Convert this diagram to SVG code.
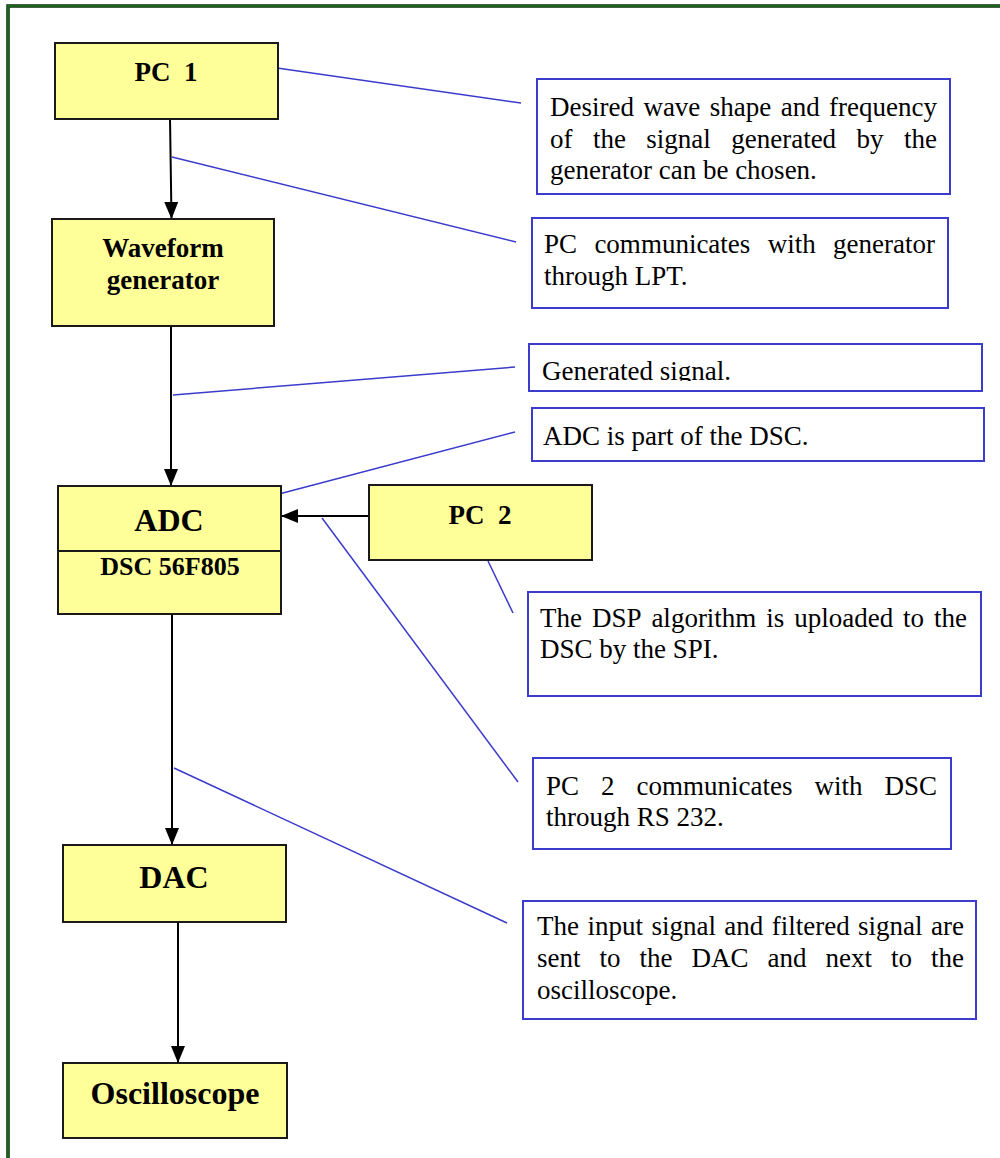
<svg xmlns="http://www.w3.org/2000/svg" width="1000" height="1158" viewBox="0 0 1000 1158">
<style>
.node{fill:#ffff99;stroke:#1a1a1a;stroke-width:2}
.lbl{font-family:"Liberation Serif","Times New Roman",serif;font-weight:bold;fill:#000;text-anchor:middle}
.note{fill:#fff;stroke:#3b3bcc;stroke-width:2}
.nt{font-family:"Liberation Serif","Times New Roman",serif;font-size:27px;fill:#000}
.lead{stroke:#3b3bcc;stroke-width:1.5;fill:none}
.arr{stroke:#000;stroke-width:2;fill:none;marker-end:url(#ah)}
</style>
<defs>
<marker id="ah" markerWidth="17" markerHeight="14" refX="17" refY="7" orient="auto" markerUnits="userSpaceOnUse" viewBox="0 0 17 14">
<path d="M0,0 L17,7 L0,14 Z" fill="#000"/>
</marker>
<clipPath id="clip3"><rect x="529" y="344" width="453" height="37"/></clipPath>
</defs>
<rect width="1000" height="1158" fill="#fff"/>
<g id="frame">
<rect x="8" y="6" width="1010" height="1170" fill="none" stroke="#0d2a0d" stroke-width="3.5"/>
<rect x="8" y="6" width="1010" height="1170" fill="none" stroke="#1c7a1c" stroke-width="1.5"/>
</g>
<g id="connectors">
<line class="arr" x1="170" y1="118" x2="171.5" y2="219"/>
<line class="arr" x1="171" y1="326" x2="171" y2="486"/>
<line class="arr" x1="172" y1="614" x2="172" y2="845"/>
<line class="arr" x1="178" y1="922" x2="178" y2="1063"/>
<line class="arr" x1="369" y1="516" x2="281" y2="516"/>
<line class="lead" x1="277" y1="68" x2="521" y2="103"/>
<line class="lead" x1="172" y1="157" x2="516" y2="242"/>
<line class="lead" x1="173" y1="395" x2="515" y2="367"/>
<line class="lead" x1="279" y1="494" x2="515" y2="432"/>
<line class="lead" x1="488" y1="561" x2="513" y2="613"/>
<line class="lead" x1="322" y1="518" x2="518" y2="782"/>
<line class="lead" x1="174" y1="768" x2="507" y2="923"/>
</g>
<g id="pc1">
<rect class="node" x="55" y="43" width="223" height="76"/>
<text class="lbl" x="166" y="81" font-size="27">PC&#160; 1</text>
</g>
<g id="waveform">
<rect class="node" x="52" y="219" width="222" height="107"/>
<text class="lbl" x="163" y="257" font-size="27">Waveform</text>
<text class="lbl" x="163" y="289" font-size="27">generator</text>
</g>
<g id="adc">
<rect class="node" x="58" y="486" width="223" height="128"/>
<line x1="58" y1="551" x2="281" y2="551" stroke="#1a1a1a" stroke-width="2"/>
<text class="lbl" x="169" y="531" font-size="32">ADC</text>
<text class="lbl" x="170" y="575" font-size="26">DSC 56F805</text>
</g>
<g id="pc2">
<rect class="node" x="369" y="485" width="223" height="75"/>
<text class="lbl" x="480" y="524" font-size="27">PC&#160; 2</text>
</g>
<g id="dac">
<rect class="node" x="63" y="845" width="223" height="77"/>
<text class="lbl" x="174" y="888" font-size="32">DAC</text>
</g>
<g id="oscilloscope">
<rect class="node" x="63" y="1063" width="224" height="75"/>
<text class="lbl" x="175" y="1104" font-size="32">Oscilloscope</text>
</g>
<g id="note1">
<rect class="note" x="537" y="79" width="413" height="115"/>
<text class="nt" y="116"><tspan x="550">Desired</tspan><tspan x="643.4">wave</tspan><tspan x="709.8">shape</tspan><tspan x="780.7">and</tspan><tspan x="829.1">frequency</tspan></text>
<text class="nt" y="148"><tspan x="550">of</tspan><tspan x="592.9">the</tspan><tspan x="646.3">signal</tspan><tspan x="731.2">generated</tspan><tspan x="856.6">by</tspan><tspan x="904">the</tspan></text>
<text class="nt" x="550" y="179">generator can be chosen.</text>
</g>
<g id="note2">
<rect class="note" x="532" y="218" width="416" height="90"/>
<text class="nt" y="253"><tspan x="544">PC</tspan><tspan x="594.4">communicates</tspan><tspan x="767.7">with</tspan><tspan x="833.1">generator</tspan></text>
<text class="nt" x="544" y="285">through LPT.</text>
</g>
<g id="note3">
<rect class="note" x="529" y="344" width="453" height="47"/>
<text class="nt" x="542" y="380" clip-path="url(#clip3)">Generated signal.</text>
</g>
<g id="note4">
<rect class="note" x="532" y="408" width="452" height="53"/>
<text class="nt" x="543" y="445">ADC is part of the DSC.</text>
</g>
<g id="note5">
<rect class="note" x="528" y="592" width="453" height="104"/>
<text class="nt" y="627"><tspan x="540">The</tspan><tspan x="591.9">DSP</tspan><tspan x="651.4">algorithm</tspan><tspan x="766.3">is</tspan><tspan x="794.2">uploaded</tspan><tspan x="903.1">to</tspan><tspan x="934">the</tspan></text>
<text class="nt" x="540" y="658">DSC by the SPI.</text>
</g>
<g id="note6">
<rect class="note" x="533" y="758" width="418" height="91"/>
<text class="nt" y="795"><tspan x="546">PC</tspan><tspan x="601">2</tspan><tspan x="636.5">communicates</tspan><tspan x="814.5">with</tspan><tspan x="884.5">DSC</tspan></text>
<text class="nt" x="546" y="826">through RS 232.</text>
</g>
<g id="note7">
<rect class="note" x="523" y="901" width="453" height="118"/>
<text class="nt" y="935"><tspan x="537">The</tspan><tspan x="587.4">input</tspan><tspan x="651.4">signal</tspan><tspan x="724.3">and</tspan><tspan x="771.7">filtered</tspan><tspan x="858.1">signal</tspan><tspan x="931.1">are</tspan></text>
<text class="nt" y="967"><tspan x="537">sent</tspan><tspan x="599.5">to</tspan><tspan x="639.5">the</tspan><tspan x="691.5">DAC</tspan><tspan x="767.5">and</tspan><tspan x="825.5">next</tspan><tspan x="891">to</tspan><tspan x="931">the</tspan></text>
<text class="nt" x="537" y="999">oscilloscope.</text>
</g>
</svg>
